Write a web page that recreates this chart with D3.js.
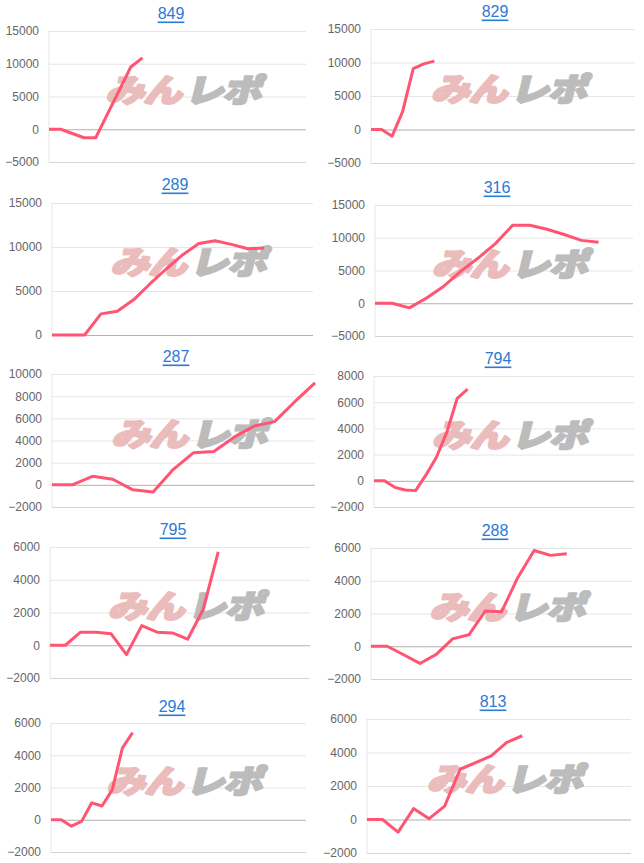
<!DOCTYPE html>
<html>
    <head>
        <meta charset="utf-8">
        <title>Panels</title>
        <script src="https://d3js.org/d3.v7.min.js"></script>
        <style>
            body {
                margin: 0;
                background: #fff;
            }
            .tick text {
                font-family: "Liberation Sans", Arial, sans-serif;
                font-size: 12px;
                fill: #666;
            }
            .title {
                font-family: "Liberation Sans", Arial, sans-serif;
                font-size: 16px;
                fill: #2a7ad8;
                text-decoration: underline;
            }
        </style>
    </head>
    <body>
        <svg id="chart"></svg>

        <script>
            // one entry per panel
            const titles = ["849", "829", "289", "316", "287", "794", "795", "288", "294", "813"];
            const labelCounts = [23, 26, 17, 16, 14, 26, 18, 17, 26, 18];
            const yDomains = [
                [-5000, 15000], [-5000, 15000], [0, 15000], [-5000, 15000], [-2000, 10000],
                [-2000, 8000], [-2000, 6000], [-2000, 6000], [-2000, 6000], [-2000, 6000]
            ];
            const tickSteps = [5000, 5000, 5000, 5000, 2000, 2000, 2000, 2000, 2000, 2000];

            const s849 = [0, 0, -650, -1300, -1300, 2300, 5900, 9500, 10900];
            const s829 = [0, 0, -1000, 2700, 9100, 9800, 10200];
            const s289 = [0, 0, 0, 2400, 2700, 4000, 5800, 7500, 9100, 10400, 10700, 10300, 9800, 9900];
            const s316 = [0, 0, -700, 800, 2600, 4900, 6900, 9100, 11900, 11900, 11300, 10500, 9600, 9300];
            const s287 = [0, 0, 770, 500, -450, -650, 1400, 2900, 3000, 4300, 5300, 5700, 7500, 9200];
            const s794 = [0, 0, -500, -700, -750, 450, 1800, 3700, 6300, 7000];
            const s795 = [0, 0, 800, 800, 700, -570, 1200, 800, 750, 370, 2150, 5700];
            const s288 = [0, 0, -520, -1050, -500, 450, 700, 2150, 2100, 4200, 5850, 5550, 5650];
            const s294 = [0, 0, -400, -100, 1050, 850, 1850, 4450, 5400];
            const s813 = [0, 0, -750, 650, 50, 800, 3000, 3400, 3800, 4600, 5000];
            const series = [s849, s829, s289, s316, s287, s794, s795, s288, s294, s813];

            // page layout of each panel (title centre, plot box)
            const layout = [
                { tx: 171, ty: 13, left: 49, right: 306, top: 31, bottom: 162 },
                { tx: 495, ty: 11, left: 371, right: 635, top: 29, bottom: 163 },
                { tx: 175, ty: 184, left: 52, right: 313, top: 203, bottom: 335 },
                { tx: 497, ty: 187, left: 375, right: 633, top: 205, bottom: 336 },
                { tx: 176, ty: 356, left: 52, right: 315, top: 374, bottom: 507 },
                { tx: 498, ty: 358, left: 374, right: 634, top: 376, bottom: 507 },
                { tx: 173, ty: 529, left: 50, right: 310, top: 547, bottom: 678 },
                { tx: 495, ty: 530, left: 371, right: 632, top: 548, bottom: 679 },
                { tx: 172, ty: 706, left: 51, right: 306, top: 723, bottom: 852 },
                { tx: 493, ty: 701, left: 367, right: 631, top: 719, bottom: 853 }
            ];

            const width = 644;
            const height = 863;

            const svg = d3.select("#chart")
                .attr("width", width)
                .attr("height", height);

            titles.forEach((title, i) => {
                const box = layout[i];
                const values = series[i];
                const [yMin, yMax] = yDomains[i];

                const x = d3.scalePoint()
                    .domain(d3.range(labelCounts[i]))
                    .range([box.left, box.right]);

                const y = d3.scaleLinear()
                    .domain(yDomains[i])
                    .range([box.bottom, box.top]);

                const ticks = d3.range(yMin, yMax + 1, tickSteps[i]);
                const panel = svg.append("g");

                // horizontal grid
                panel.append("g")
                    .attr("transform", `translate(${box.left}, 0)`)
                    .call(d3.axisLeft(y).tickValues(ticks).tickSize(-(box.right - box.left)).tickFormat(""))
                    .call(g => g.select(".domain").remove())
                    .call(g => g.selectAll(".tick line")
                        .attr("stroke", d => d === 0 ? "#b0b0b0" : (d === yMin ? "#d4d4d4" : "#e6e6e6")));

                // y axis line
                panel.append("line")
                    .attr("x1", box.left)
                    .attr("x2", box.left)
                    .attr("y1", box.top)
                    .attr("y2", box.bottom)
                    .attr("stroke", "#e6e6e6");

                panel.append("g")
                    .attr("transform", `translate(${box.left}, 0)`)
                    .call(d3.axisLeft(y).tickValues(ticks).tickSize(0).tickPadding(10).tickFormat(d3.format("d")))
                    .call(g => g.select(".domain").remove())
                    .call(g => g.selectAll("text").attr("font-family", null).attr("font-size", null));

                // watermark logo
                const wm = panel.append("text")
                    .attr("transform", `translate(${(box.left + box.right) / 2 + 9}, ${(box.top + box.bottom) / 2 - 9}) skewX(-14) scale(1.22, 1)`)
                    .attr("text-anchor", "middle")
                    .attr("dominant-baseline", "central")
                    .attr("stroke-width", 2.2)
                    .attr("stroke-linejoin", "round")
                    .style("font-family", "'Noto Sans CJK JP', sans-serif")
                    .style("font-weight", 900)
                    .style("font-size", "32px")
                    .style("letter-spacing", "-1px");
                wm.append("tspan").attr("fill", "#ebbcbc").attr("stroke", "#ebbcbc").text("みん");
                wm.append("tspan").attr("fill", "#bcbcbc").attr("stroke", "#bcbcbc").attr("dx", 3).text("レポ");

                const line = d3.line()
                    .x((d, j) => x(j))
                    .y(d => y(d));

                panel.append("path")
                    .datum(values)
                    .attr("fill", "none")
                    .attr("stroke", "#ff5573")
                    .attr("stroke-width", 3)
                    .attr("stroke-linejoin", "round")
                    .attr("d", line);

                panel.append("text")
                    .attr("class", "title")
                    .attr("x", box.tx)
                    .attr("y", box.ty)
                    .attr("text-anchor", "middle")
                    .attr("dominant-baseline", "central")
                    .text(title);
            });
        </script>
    </body>
</html>
